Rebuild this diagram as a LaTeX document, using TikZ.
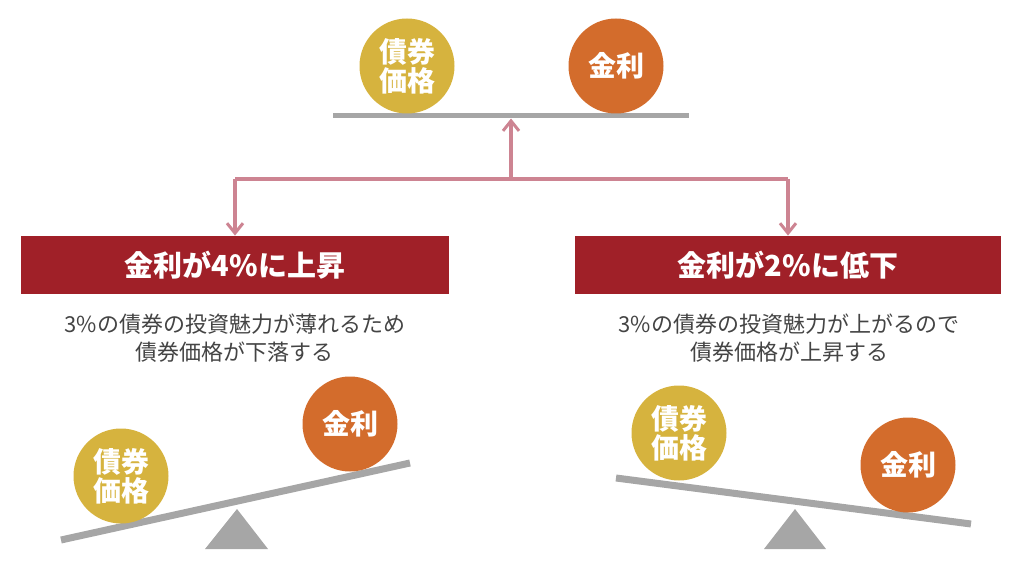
\documentclass[tikz,border=0pt]{standalone}
\usepackage{fontspec}
\setmainfont{Noto Sans CJK JP}
\usetikzlibrary{arrows.meta}
\definecolor{cyel}{RGB}{214,179,62}
\definecolor{corg}{RGB}{211,108,44}
\definecolor{cred}{RGB}{160,32,40}
\definecolor{cpink}{RGB}{205,132,146}
\definecolor{cgray}{RGB}{166,166,166}
\definecolor{ctext}{RGB}{68,68,68}
\begin{document}
\begin{tikzpicture}[x=0.5pt,y=-0.5pt,
  ball/.style={circle,inner sep=0pt,minimum size=47.5pt,text=white,align=center,
    font=\fontsize{14}{14.5}\selectfont\bfseries},
  bond/.style={ball,fill=cyel},
  rate/.style={ball,fill=corg},
  head/.style={fill=cred,text=white,minimum height=29pt,inner sep=0pt,
    font=\fontsize{14.5}{16}\selectfont\bfseries},
  note/.style={text=ctext,align=center,font=\fontsize{11}{14}\selectfont},
  beam/.style={draw=cgray,line width=3.5pt},
  flat/.style={draw=cgray,line width=2.5pt},
  parrow/.style={draw=cpink,line width=2pt,-{Straight Barb[length=5pt,width=8pt,line width=1.5pt]}},
  pline/.style={draw=cpink,line width=2pt},
  fulcrum/.style={fill=cgray}]
\useasboundingbox (0,0) rectangle (1024,583);
% top balance
\path[flat] (333,115.6) coordinate (barL) -- (689,115.6) coordinate (barR);
\node[bond] (tb) at (407,66) {債券\\価格};
\node[rate] (tr) at (616,66) {金利};
\coordinate (barmid) at (511,118.5);
\coordinate (j) at (511,179);
% headers
\node[head,minimum width=214pt] (lhead) at (235,265) {金利が4\%に上昇};
\node[head,minimum width=213pt] (rhead) at (788,265) {金利が2\%に低下};
% connectors
\path[pline] (lhead.north |- j) -- (rhead.north |- j);
\path[parrow] (j) -- (barmid);
\path[parrow] (lhead.north |- j) -- (lhead.north);
\path[parrow] (rhead.north |- j) -- (rhead.north);
% notes
\node[note] (lnote) at (235,338) {3\%の債券の投資魅力が薄れるため\\債券価格が下落する};
\node[note] (rnote) at (789,338) {3\%の債券の投資魅力が上がるので\\債券価格が上昇する};
% left seesaw
\path[fulcrum] (205,549) -- (268,549) -- (237,509) -- cycle;
\path[beam] (61,540) -- (410,463);
\node[bond] (lb) at (121,476) {債券\\価格};
\node[rate] (lr) at (350,424) {金利};
% right seesaw
\path[fulcrum] (764,549) -- (826,549) -- (795,509) -- cycle;
\path[beam] (616,478) -- (971,524);
\node[bond] (rb) at (679,433) {債券\\価格};
\node[rate] (rr) at (908,465) {金利};
\end{tikzpicture}
\end{document}
